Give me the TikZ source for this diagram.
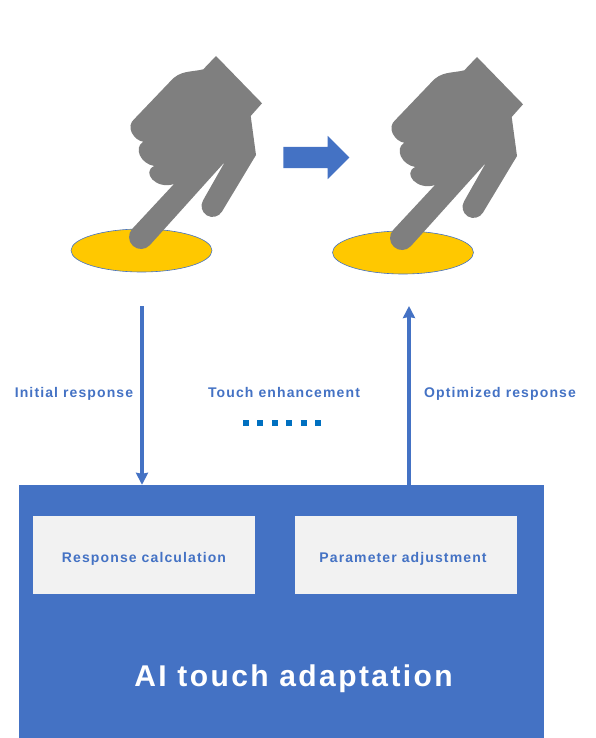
\documentclass[tikz,border=0pt]{standalone}
\usepackage{fontspec}
\setsansfont[LetterSpace=8]{Liberation Sans}
\usetikzlibrary{arrows.meta,shapes.geometric,shapes.arrows}
\definecolor{aiblue}{HTML}{4472C4}
\definecolor{dotblue}{HTML}{0070C0}
\definecolor{handgrey}{HTML}{7F7F7F}
\definecolor{padyellow}{HTML}{FFC800}
\definecolor{boxgrey}{HTML}{F2F2F2}

\begin{document}
\begin{tikzpicture}[
  x=1pt, y=-1pt,
  font=\sffamily\bfseries,
  padnode/.style={ellipse, draw=aiblue, line width=0.6pt, fill=padyellow,
                  minimum width=141pt, minimum height=43pt, inner sep=0pt},
  calcbox/.style={draw=none, fill=boxgrey, minimum width=222pt, minimum height=78pt,
                  inner sep=0pt, align=center, text=aiblue, text height=14pt, text depth=0pt,
                  font=\sffamily\bfseries\fontsize{14}{16}\selectfont},
  lbl/.style={text=aiblue, inner sep=0pt, text height=10pt, text depth=3pt,
              font=\sffamily\bfseries\fontsize{14}{16}\selectfont},
  arr/.style={-{Stealth[length=12pt, width=12pt, inset=1pt]}, aiblue, line width=3.5pt},
  nextarrow/.style={single arrow, fill=aiblue, draw=none, inner sep=10.5pt,
                    minimum height=66pt, minimum width=43pt,
                    single arrow head extend=11pt, single arrow tip angle=90},
]
\useasboundingbox (0,0) rectangle (596,738);

\def\handshape{
  (216,56) -- (262,103.3) -- (250.7,116) -- (256,155)
  -- (221.9,211.7) arc[start angle=31.5, end angle=211.5, radius=11]
  -- (225,161.7) -- (149.8,245.2) arc[start angle=43, end angle=223, radius=12]
  -- (174,184)
  .. controls (156,190) and (141,172) .. (154.3,166)
  .. controls (141,164) and (133,148) .. (143.3,141.7)
  .. controls (135,141) and (124,127) .. (135,118.3)
  -- (170,81.7)
  .. controls (180,70) and (190,72.5) .. (203.3,69.3) -- cycle}

% ---------------- touch before and after -----------------------------
\node[padnode] (padleft) at (141.5,250.5) {};
\node[padnode] (padright) at (403,252.5) {};
\fill[handgrey] \handshape;
\fill[handgrey, xshift=261pt, yshift=-1pt] \handshape;
\node[nextarrow] (nextstep) at (311,157.5) {};

% ---------------- adaptation block -----------------------------------
\node[fill=aiblue, minimum width=525pt, minimum height=253pt, inner sep=0pt] (adapt) at (281.5,611.5) {};
\node[calcbox] (calc) at (144,555) {Response calculation};
\node[calcbox] (param) at (406,555) {Parameter adjustment\hspace*{6pt}};
\node[text=white, inner sep=0pt, font=\sffamily\bfseries\fontsize{30}{34}\selectfont] (adapttitle) at (293.5,679) {AI touch adaptation};

% ---------------- responses ------------------------------------------
\coordinate (initstart) at (142,306);
\coordinate (optend) at (409,306);
\draw[arr] (initstart) -- (initstart |- adapt.north);
\draw[arr, line width=4pt] (optend |- adapt.north) -- (optend);

\node[lbl] (initlbl) at (74,394) {Initial response};
\node[lbl] (touchlbl) at (284,394) {Touch enhancement};
\node[lbl] (optlbl) at (500,394) {Optimized response};

\coordinate (dotstart) at (243,423);
\coordinate (dotend) at (321,423);
\draw[dotblue, line width=6pt, dash pattern=on 6pt off 8.4pt] (dotstart) -- (dotend);

\end{tikzpicture}
\end{document}
